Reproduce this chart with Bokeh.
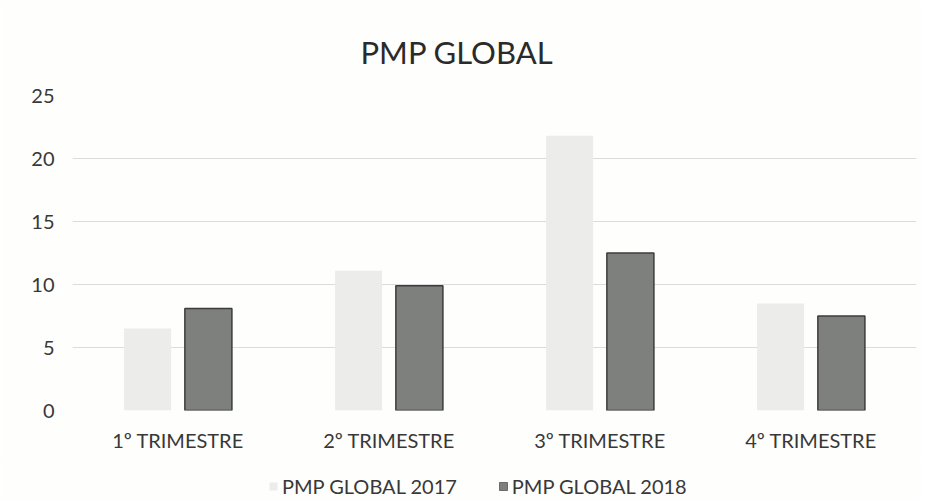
from bokeh.plotting import figure
from bokeh.models import ColumnDataSource, FactorRange, Legend, LegendItem
from bokeh.layouts import column
from bokeh.transform import dodge
from bokeh.embed import file_html
from bokeh.resources import INLINE

categories = ["1º TRIMESTRE", "2º TRIMESTRE", "3º TRIMESTRE", "4º TRIMESTRE"]
pmp_2017 = [6.5, 11.1, 21.8, 8.5]
pmp_2018 = [8.1, 9.9, 12.5, 7.5]
y_ticks = [0, 5, 10, 15, 20, 25]
series_names = ["PMP GLOBAL 2017", "PMP GLOBAL 2018"]

source = ColumnDataSource(dict(cat=categories, v2017=pmp_2017, v2018=pmp_2018))

FONT = "Lato"
BG = "#fefefc"
C2017 = "#ececea"
C2018 = "#7e807e"
EDGE = "#3c3c3c"

p = figure(width=921, height=456, x_range=FactorRange(*categories, range_padding=0),
           y_range=(0, 25), output_backend="svg", toolbar_location=None,
           title="PMP GLOBAL",
           min_border_left=72, min_border_right=5, min_border_top=95, min_border_bottom=46)
p.background_fill_color = BG
p.border_fill_color = BG
p.outline_line_color = None

p.vbar(x=dodge("cat", -0.144, range=p.x_range), top="v2017", width=0.223, source=source,
       fill_color=C2017, line_color=None)
p.vbar(x=dodge("cat", 0.144, range=p.x_range), top="v2018", width=0.223, source=source,
       fill_color=C2018, line_color=EDGE, line_width=1.5)

p.yaxis.ticker = y_ticks
p.xgrid.grid_line_color = None
p.ygrid.grid_line_color = "#dcdcdc"
p.ygrid.grid_line_width = 1
for ax in (p.xaxis[0], p.yaxis[0]):
    ax.axis_line_color = None
    ax.major_tick_line_color = None
    ax.minor_tick_line_color = None
    ax.major_label_text_font = FONT
    ax.major_label_text_font_size = "20px"
    ax.major_label_text_color = "#383838"
p.yaxis.major_label_standoff = 12
p.xaxis.major_label_standoff = 11

p.title.align = "left"
p.title.offset = 288
p.title.text_font = FONT
p.title.text_font_size = "31px"
p.title.text_font_style = "normal"
p.title.text_color = "#2a2a2a"
p.title.standoff = 49

# legend strip below the chart (its frame is aligned with the chart's frame)
q = figure(width=921, height=44, output_backend="svg", toolbar_location=None,
           min_border=0, x_range=(0, 1), y_range=(0, 1))
q.background_fill_color = BG
q.border_fill_color = BG
q.outline_line_color = None
q.xaxis.visible = False
q.yaxis.visible = False
q.grid.grid_line_color = None
# zero-height placeholder bars: only their legend swatches are seen
swatch = ColumnDataSource(dict(x=[0], top=[0]))
g1 = q.vbar(x="x", top="top", bottom="top", width=0, source=swatch,
            fill_color=C2017, line_color=None)
g2 = q.vbar(x="x", top="top", bottom="top", width=0, source=swatch,
            fill_color=C2018, line_color="#6a6a6a")

legend = Legend(items=[LegendItem(label=series_names[0], renderers=[g1]),
                       LegendItem(label=series_names[1], renderers=[g2])],
                orientation="horizontal", location=(196, 2),
                label_text_font=FONT, label_text_font_size="20px", label_text_color="#383838",
                glyph_width=10, glyph_height=10, label_standoff=4, spacing=41,
                padding=0, margin=0,
                background_fill_alpha=0, border_line_color=None)
q.add_layout(legend)

layout = column(p, q, spacing=0)
open("out.html", "w").write(file_html(layout, INLINE))
